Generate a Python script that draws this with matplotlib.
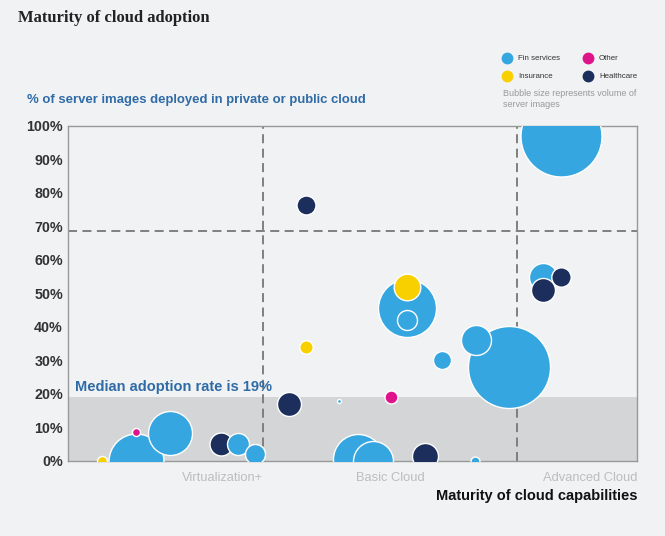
import matplotlib
matplotlib.use("Agg")
import matplotlib.pyplot as plt
from matplotlib.lines import Line2D

plt.rcParams["font.family"] = ["Liberation Sans", "DejaVu Sans"]

# ---- data ----
sectors = ["Fin services", "Other", "Insurance", "Healthcare"]
sector_colors = {"Fin services": "#35a6df", "Other": "#e0148a",
                 "Insurance": "#f8d000", "Healthcare": "#1b2e5c"}

# maturity score (0-10), % deployed in cloud, sector, bubble volume
maturity = [0.60, 1.20, 1.20, 1.80, 2.69, 2.99, 3.28, 3.88, 4.76, 4.18, 4.18,
            5.96, 5.96, 5.96, 5.67, 6.58, 7.75, 7.17, 5.10, 5.36, 6.27, 7.16,
            8.66, 8.35, 8.66, 8.35]
adoption = [0.0, 0.0, 8.7, 8.4, 5.2, 5.0, 2.0, 17.0, 18.0, 76.3, 34.0,
            45.8, 52.0, 42.0, 19.0, 30.0, 28.0, 36.0, 0.5, 0.0, 1.5, 0.0,
            97.0, 55.0, 55.0, 51.0]
sector = ["Insurance", "Fin services", "Other", "Fin services", "Healthcare",
          "Fin services", "Fin services", "Healthcare", "Fin services",
          "Healthcare", "Insurance", "Fin services", "Insurance", "Fin services",
          "Other", "Fin services", "Fin services", "Fin services", "Fin services",
          "Fin services", "Healthcare", "Fin services", "Fin services",
          "Fin services", "Healthcare", "Healthcare"]
volume = [25, 756, 16, 484, 132, 121, 100, 144, 4, 90, 45,
          841, 177, 100, 42, 81, 1681, 225, 625, 400, 169, 20,
          1640, 196, 94, 144]

median_rate = 19
cloud_threshold = 68.6
stage_bounds = [3.43, 7.89]
stage_labels = ["Virtualization+", "Basic Cloud", "Advanced Cloud"]
stage_label_x = [3.43, 6.26, 10.0]
yticks = list(range(0, 101, 10))

# ---- figure ----
bg = "#f1f2f4"
fig = plt.figure(figsize=(6.65, 5.36), dpi=100, facecolor=bg)
ax = fig.add_axes([0.102, 0.140, 0.856, 0.625], facecolor=bg)
ax.set_xlim(0, 10)
ax.set_ylim(0, 100)

ax.axhspan(0, median_rate, color="#d4d5d6", zorder=0, lw=0)
ax.axhline(cloud_threshold, color="#777777", ls=(0, (5, 3)), lw=1.3, zorder=1)
for b in stage_bounds:
    ax.axvline(b, color="#777777", ls=(0, (5, 3)), lw=1.3, zorder=1)

px2pt = 72 / 100.0
for i, (x, y, s, v) in enumerate(zip(maturity, adoption, sector, volume)):
    ax.scatter([x], [y], s=(2 * px2pt) ** 2 * v, color=sector_colors[s],
               edgecolors="white", linewidths=1.0, zorder=3 + i)

for sp in ax.spines.values():
    sp.set_color("#999999")
    sp.set_linewidth(1)
ax.set_xticks([])
ax.set_yticks(yticks)
ax.set_yticklabels([f"{t}%" for t in yticks], fontsize=10.3, fontweight="bold",
                   color="#333333")
ax.tick_params(axis="y", length=0, pad=3.5)

# stage labels
for lx, lab in zip(stage_label_x, stage_labels):
    ax.text(lx, -5, lab, ha="right", va="center", fontsize=9.3, color="#bdbdbd")

ax.text(0.12, median_rate + 3, f"Median adoption rate is {median_rate}%",
        ha="left", va="center", fontsize=10.5, fontweight="bold",
        color="#2f6ba6", zorder=40)

fig.text(18 / 665, 1 - 18 / 536, "Maturity of cloud adoption",
         fontsize=12, fontweight="bold", family="Liberation Serif",
         color="#222222", va="center", ha="left")
fig.text(27 / 665, 1 - 100 / 536,
         "% of server images deployed in private or public cloud",
         fontsize=9.45, fontweight="bold", color="#2f6ba6", va="center", ha="left")
fig.text(638 / 665, 1 - 496 / 536, "Maturity of cloud capabilities",
         fontsize=10.5, fontweight="bold", color="#111111", va="center", ha="right")

# legend
leg_items = [("Fin services", 507, 58), ("Other", 588, 58),
             ("Insurance", 507, 76), ("Healthcare", 588, 76)]
for name, lx, ly in leg_items:
    fig.add_artist(Line2D([lx / 665], [1 - ly / 536], marker="o", ms=7.5,
                          color=sector_colors[name], ls="none",
                          transform=fig.transFigure))
    fig.text((lx + 11) / 665, 1 - ly / 536, name, fontsize=5.7, color="#333333",
             va="center", ha="left")
fig.text(503 / 665, 1 - 99 / 536, "Bubble size represents volume of\nserver images",
         fontsize=6.5, color="#999999", va="center", ha="left", linespacing=1.2)

fig.savefig("out.png", dpi=100, facecolor=bg)
